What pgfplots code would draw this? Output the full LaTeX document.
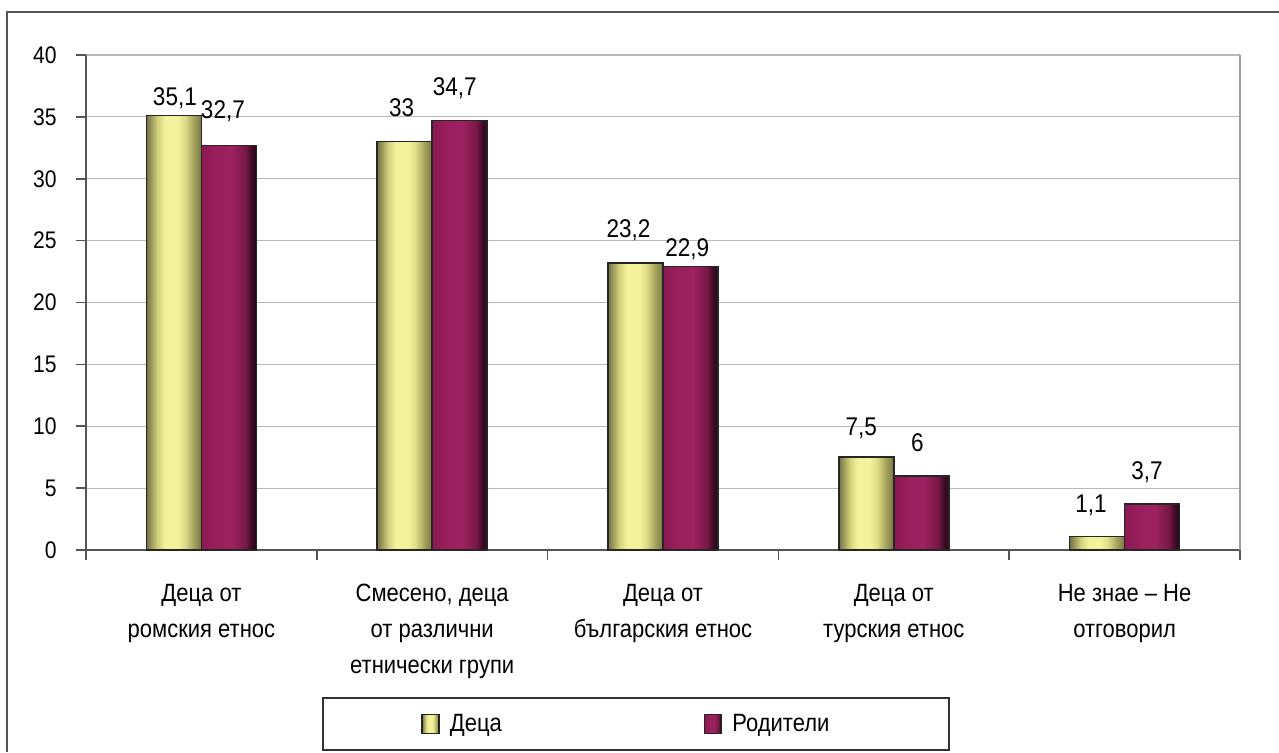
\documentclass[border=0pt]{standalone}
\usepackage{pgfplots}
\pgfplotsset{compat=1.18}
\usepackage{fontspec}
\setmainfont{Liberation Sans}
\newfontfamily\narrowfont{Liberation Sans}[FakeStretch=0.88]

\definecolor{y0}{HTML}{737146}
\definecolor{y1}{HTML}{D2D07A}
\definecolor{y2}{HTML}{F4F29A}
\definecolor{y3}{HTML}{DEDC86}
\definecolor{y4}{HTML}{A4A25C}
\definecolor{y5}{HTML}{787642}
\definecolor{p0}{HTML}{8A1952}
\definecolor{p1}{HTML}{961D5A}
\definecolor{p2}{HTML}{9E2262}
\definecolor{p3}{HTML}{781846}
\definecolor{p4}{HTML}{3A0B22}
\definecolor{p5}{HTML}{2A0818}
\definecolor{axisgray}{HTML}{555555}
\definecolor{gridgray}{HTML}{B8B8B8}

\pgfdeclarehorizontalshading{yellowbar}{100bp}{color(0bp)=(y0); color(25bp)=(y0); color(35bp)=(y1); color(42bp)=(y2); color(53bp)=(y2); color(60bp)=(y3); color(68bp)=(y4); color(75bp)=(y5); color(100bp)=(y5)}
\pgfdeclarehorizontalshading{purplebar}{100bp}{color(0bp)=(p0); color(25bp)=(p0); color(35bp)=(p1); color(52bp)=(p2); color(65bp)=(p3); color(71bp)=(p4); color(75bp)=(p5); color(100bp)=(p5)}

\pgfplotsset{/pgf/number format/.cd, use comma, 1000 sep={}, assume math mode=true}
\pgfplotsset{
  ydeca/.style={draw=black!85, line width=0.75pt, shading=yellowbar, shade},
  yrod/.style={draw=black!85, line width=0.75pt, shading=purplebar, shade},
  deca/.style={ybar, bar shift=-13.75pt, ydeca, forget plot},
  rod/.style={ybar, bar shift=13.75pt, yrod, forget plot},
  lab/.style 2 args={nodes near coords, every node near coord/.append style={anchor=center, xshift=#1pt, yshift=#2pt, font=\narrowfont\fontsize{12.8}{14}\selectfont, inner sep=0pt, color=black}},
}

\begin{document}
\begin{tikzpicture}[x=1pt,y=1pt]
\useasboundingbox (0,0) rectangle (639.5,376);
% outer frame (left and top edges)
\draw[color=axisgray, line width=1pt] (3.5,0) -- (3.5,370) -- (639.5,370);
\begin{axis}[
  at={(43pt,101pt)}, anchor=south west,
  scale only axis, width=577pt, height=247.5pt,
  xmin=-0.5, xmax=4.5, ymin=0, ymax=40,
  axis lines=left,
  axis line style={-, color=axisgray, line width=1pt},
  ytick={0,5,...,40},
  ymajorgrids,
  grid style={color=gridgray, line width=0.6pt},
  tick align=outside,
  major tick length=5pt,
  ytick style={color=axisgray, line width=0.8pt},
  yticklabel style={font=\narrowfont\fontsize{12}{14}\selectfont, inner sep=0pt, xshift=-9.5pt},
  xtick={0,1,2,3,4},
  xtick style={draw=none},
  xticklabels={{Деца от\\ромския етнос},{Смесено, деца\\от различни\\етнически групи},{Деца от\\българския етнос},{Деца от\\турския етнос},{Не знае – Не\\отговорил}},
  xticklabel style={font=\narrowfont\fontsize{12.5}{18}\selectfont, align=center, inner sep=0pt, anchor=north, yshift=-11.9pt},
  extra x ticks={-0.5,0.5,1.5,2.5,3.5,4.5},
  extra x tick labels={},
  extra x tick style={grid=none, xtick style={draw=axisgray, line width=0.8pt}, major tick length=5pt},
  bar width=27.5pt,
  legend columns=2,
  legend style={draw=none, fill=none, inner sep=0pt, at={(0.2903,-0.3515)}, anchor=west, font=\narrowfont\fontsize{12.5}{14}\selectfont,
    nodes={inner sep=0pt},
    /tikz/every odd column/.append style={column sep=5pt},
    /tikz/every even column/.append style={column sep=101pt}},
  legend image code/.code={\draw[#1] (0pt,-4.75pt) rectangle (8.5pt,4.75pt);},
  clip=false,
]
% Деца
\addplot[deca, lab={-13.25}{8.8}]  coordinates {(0,35.1)};
\addplot[deca, lab={-15.25}{16.8}] coordinates {(1,33)};
\addplot[deca, lab={-17.25}{16.2}] coordinates {(2,23.2)};
\addplot[deca, lab={-16.25}{14.5}] coordinates {(3,7.5)};
\addplot[deca, lab={-16.75}{15.7}] coordinates {(4,1.1)};
% Родители
\addplot[rod, lab={10.75}{17}]   coordinates {(0,32.7)};
\addplot[rod, lab={11.25}{16.3}] coordinates {(1,34.7)};
\addplot[rod, lab={12.15}{8.5}]  coordinates {(2,22.9)};
\addplot[rod, lab={11.75}{16.4}] coordinates {(3,6)};
\addplot[rod, lab={11.25}{16}]   coordinates {(4,3.7)};
\addlegendimage{ydeca}
\addlegendentry{Деца}
\addlegendimage{yrod}
\addlegendentry{Родители}
\draw[color=gridgray!85!black, line width=1pt] (rel axis cs:1,0) -- (rel axis cs:1,1);
\end{axis}
\draw[color=black!80, line width=0.75pt] (161.5,1) rectangle (474.5,27);
\end{tikzpicture}
\end{document}
